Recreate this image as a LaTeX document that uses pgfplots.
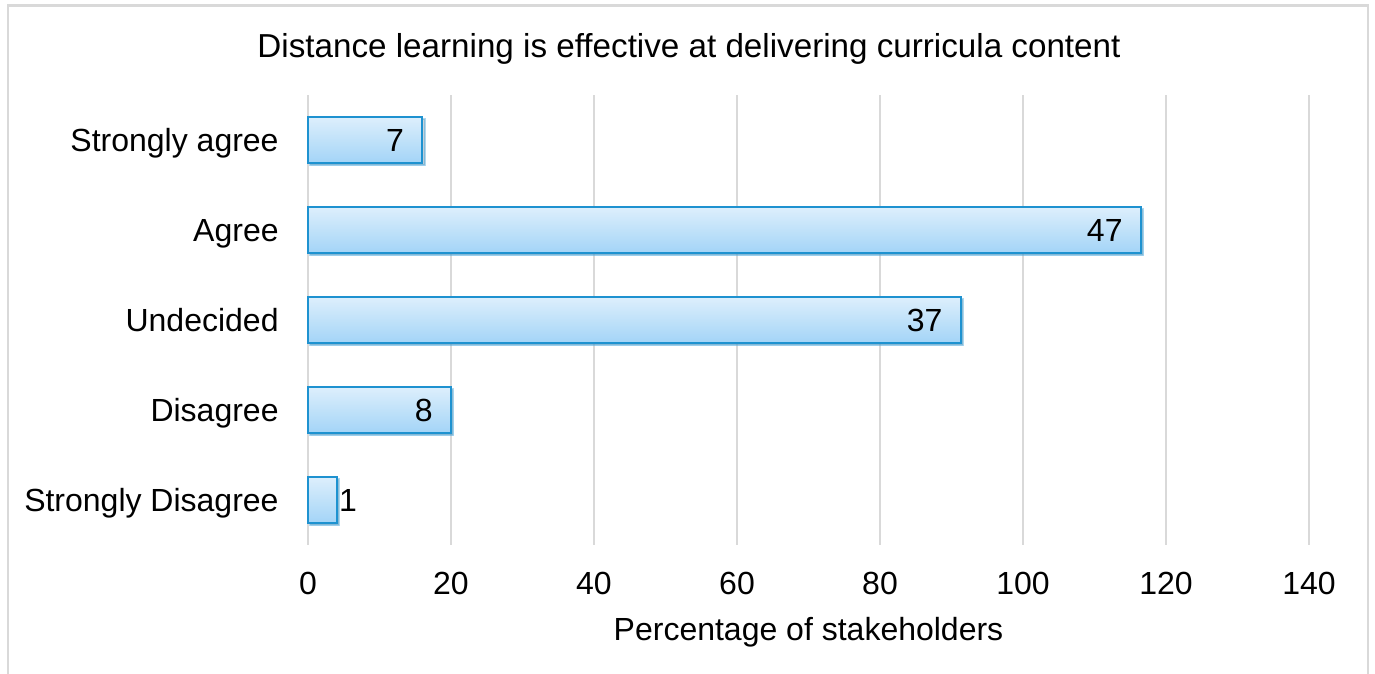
\documentclass[border=0pt]{standalone}
\usepackage{pgfplots}
\pgfplotsset{compat=1.18}
\usepackage{fontspec}
\setmainfont{Liberation Sans}
\usetikzlibrary{shadows}
\definecolor{barTop}{HTML}{DDEFFC}
\definecolor{barBot}{HTML}{A3D4F7}
\definecolor{barEdge}{HTML}{1E92D0}
\definecolor{gridc}{HTML}{D9D9D9}
\pgfplotsset{mybar/.style={xbar, bar width=23pt, bar shift=0pt, draw=barEdge, line width=1pt,
  top color=barTop, bottom color=barBot,
  drop shadow={shadow xshift=1.2pt, shadow yshift=-1.2pt, opacity=0.35, fill=black!60}}}
\begin{document}
\fontsize{16pt}{19pt}\selectfont
\begin{tikzpicture}
\useasboundingbox (0,0) rectangle (687.5pt,337pt);
\fill[white] (0,0) rectangle (687.5pt,337pt);
\draw[gridc, line width=1.2pt] (4pt,-10pt) -- (4pt,334.25pt) -- (684pt,334.25pt) -- (684pt,-10pt);
\node[anchor=base, font=\fontsize{16.6pt}{19pt}\selectfont] at (344.5pt,308pt) {Distance learning is effective at delivering curricula content};
\begin{axis}[
  at={(154pt,64.5pt)}, anchor=south west,
  scale only axis, width=500.5pt, height=225pt,
  xmin=0, xmax=140, ymin=-0.5, ymax=4.5,
  xtick={0,20,...,140},
  ytick={0,1,2,3,4},
  yticklabels={Strongly Disagree,Disagree,Undecided,Agree,Strongly agree},
  axis line style={draw=none},
  major tick length=0pt,
  xmajorgrids, major grid style={gridc, line width=1pt},
  /pgf/number format/assume math mode=true,
  tick label style={font=\fontsize{16pt}{19pt}\selectfont},
  xticklabel style={anchor=north, inner sep=0pt, yshift=-13.5pt},
  yticklabel style={anchor=base east, inner sep=0pt, xshift=-14.5pt, yshift=-5.7pt},
  xlabel={Percentage of stakeholders},
  xlabel style={at={(axis description cs:0.5,0)}, anchor=base, yshift=-47.5pt, font=\fontsize{16pt}{19pt}\selectfont},
  clip=false,
]
\addplot[mybar] coordinates {(4,0)};
\addplot[mybar] coordinates {(20,1)};
\addplot[mybar] coordinates {(91.3,2)};
\addplot[mybar] coordinates {(116.5,3)};
\addplot[mybar] coordinates {(16,4)};
\addplot[draw=none, mark=none, nodes near coords, point meta=explicit symbolic,
  every node near coord/.append style={anchor=east, inner sep=0pt, xshift=-9pt, font=\fontsize{16pt}{19pt}\selectfont}]
  table[x=v, y=y, meta=lab] {
  y v lab
  1 20 8
  2 91.3 37
  3 116.5 47
  4 16 7
};
\addplot[draw=none, mark=none, nodes near coords, point meta=explicit symbolic,
  every node near coord/.append style={anchor=west, inner sep=0pt, xshift=1pt, font=\fontsize{16pt}{19pt}\selectfont}]
  table[x=v, y=y, meta=lab] {
  y v lab
  0 4 1
};
\end{axis}
\end{tikzpicture}
\end{document}
